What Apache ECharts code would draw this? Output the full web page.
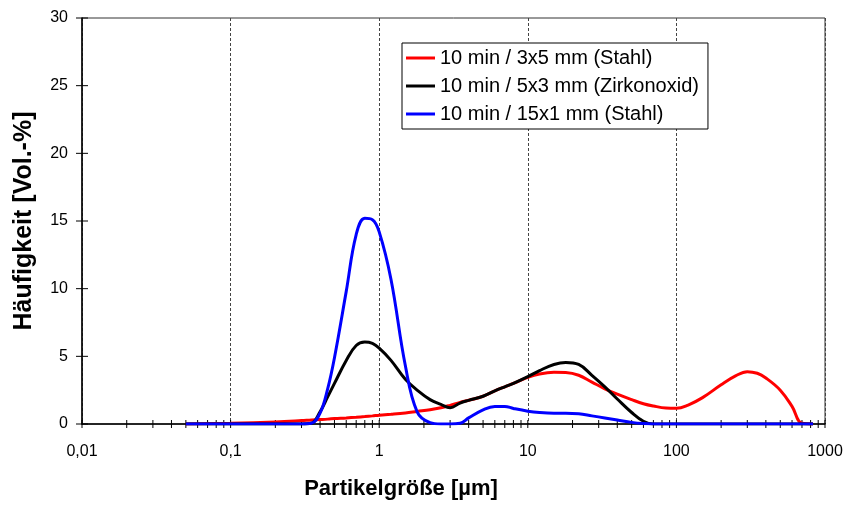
<!DOCTYPE html>
<html>
<head>
<meta charset="utf-8">
<script src="https://cdn.jsdelivr.net/npm/echarts@6/dist/echarts.min.js"></script>
<style>
    html, body {margin: 0; padding: 0; background: #fff;}
    #chart {width: 847px; height: 505px;}
</style>
</head>
<body>
<div id="chart"></div>
<script>
// Partikelgröße in µm
var sizes = [0.05, 0.1, 0.2, 0.3, 0.35, 0.4, 0.45, 0.5, 0.6, 0.7, 0.8, 0.9, 1.0, 1.2, 1.5, 1.8, 2.2, 2.6, 3, 3.5, 4, 5, 6, 7, 8,
    10, 12, 15, 18, 22, 27, 33, 40, 50, 60, 70, 85, 100, 120, 150, 200, 250, 300, 350, 400, 500, 600, 700, 830];

var stahl3x5 = [0, 0.05, 0.15, 0.25, 0.3, 0.33, 0.36, 0.4, 0.45, 0.5, 0.55, 0.6, 0.65, 0.72, 0.82, 0.93, 1.05, 1.2, 1.38, 1.6, 1.75, 2.05, 2.45, 2.75, 3.0,
    3.45, 3.7, 3.82, 3.8, 3.6, 3.1, 2.6, 2.2, 1.8, 1.5, 1.33, 1.18, 1.16, 1.4, 1.95, 2.9, 3.55, 3.87, 3.75, 3.4, 2.5, 1.3, 0.05, 0];

var zirkon5x3 = [0, 0, 0, 0, 0.05, 0.9, 2.0, 3.0, 4.7, 5.8, 6.05, 5.95, 5.6, 4.7, 3.3, 2.5, 1.8, 1.45, 1.2, 1.55, 1.75, 2.05, 2.45, 2.75, 3.0,
    3.5, 3.95, 4.4, 4.55, 4.4, 3.6, 2.75, 1.85, 0.85, 0.2, 0, 0, 0, 0, 0, 0, 0, 0, 0, 0, 0, 0, 0, 0];

var stahl15x1 = [0, 0, 0, 0, 0.05, 0.8, 2.6, 4.9, 9.8, 14.0, 15.2, 15.1, 14.2, 10.7, 4.3, 0.9, 0.1, 0, 0, 0.05, 0.45, 1.05, 1.3, 1.3, 1.15,
    0.95, 0.85, 0.8, 0.8, 0.75, 0.6, 0.45, 0.3, 0.12, 0.03, 0, 0, 0, 0, 0, 0, 0, 0, 0, 0, 0, 0, 0, 0];

var seriesNames = ['10 min / 3x5 mm (Stahl)', '10 min / 5x3 mm (Zirkonoxid)', '10 min / 15x1 mm (Stahl)'];
var seriesColors = ['#ff0000', '#000000', '#0000ff'];

// Teilstriche
var xTicks = [0.01, 0.02, 0.03, 0.04, 0.05, 0.06, 0.07, 0.08, 0.09,
    0.1, 0.2, 0.3, 0.4, 0.5, 0.6, 0.7, 0.8, 0.9,
    1, 2, 3, 4, 5, 6, 7, 8, 9,
    10, 20, 30, 40, 50, 60, 70, 80, 90,
    100, 200, 300, 400, 500, 600, 700, 800, 900, 1000];
var yTicks = [0, 5, 10, 15, 20, 25, 30];

var font = 'Liberation Sans, Arial, sans-serif';

function pairs(ys) {
    var out = [];
    for (var i = 0; i < sizes.length; i++) {
        out.push([sizes[i], ys[i]]);
    }
    return out;
}

var chart = echarts.init(document.getElementById('chart'));
var option = {
    animation: false,
    grid: {
        left: 82, right: 22, top: 18, bottom: 81,
        show: true,
        borderColor: '#333',
        borderWidth: 1
    },
    legend: {
        data: seriesNames,
        orient: 'vertical',
        left: 402,
        top: 43,
        padding: [5, 9, 5, 4],
        itemGap: 8,
        itemWidth: 29,
        itemHeight: 3,
        icon: 'rect',
        backgroundColor: '#fff',
        borderColor: '#000',
        borderWidth: 1,
        borderRadius: 0,
        textStyle: {fontSize: 20, color: '#000', fontFamily: font}
    },
    xAxis: {
        type: 'log',
        logBase: 10,
        min: 0.01,
        max: 1000,
        axisLine: {lineStyle: {color: '#000', width: 1.5}},
        axisTick: {show: false},
        axisLabel: {
            color: '#000', fontSize: 16, fontFamily: font, margin: 20,
            formatter: function (v) {
                return String(v).replace('.', ',');
            }
        },
        splitLine: {show: true, lineStyle: {color: '#444', type: [3, 2], width: 1}}
    },
    yAxis: {
        type: 'value',
        min: 0,
        max: 30,
        interval: 5,
        axisLine: {show: true, lineStyle: {color: '#000', width: 1.5}},
        axisTick: {show: false},
        axisLabel: {color: '#000', fontSize: 16, fontFamily: font, margin: 14},
        splitLine: {show: false}
    },
    graphic: [
        {
            type: 'text',
            x: 401, y: 489,
            style: {
                text: 'Partikelgröße [µm]',
                font: 'bold 22px ' + font,
                fill: '#000',
                textAlign: 'center',
                textVerticalAlign: 'middle'
            }
        },
        {
            type: 'text',
            x: 24, y: 221,
            rotation: Math.PI / 2,
            style: {
                text: 'Häufigkeit [Vol.-%]',
                font: 'bold 25px ' + font,
                fill: '#000',
                textAlign: 'center',
                textVerticalAlign: 'middle'
            }
        }
    ],
    series: [
        {
            name: 'xticks',
            type: 'custom',
            silent: true,
            z: 5,
            data: xTicks.map(function (v) { return [v, 0]; }),
            renderItem: function (params, api) {
                var p = api.coord([api.value(0), 0]);
                return {
                    type: 'line',
                    shape: {x1: p[0], y1: p[1] - 4, x2: p[0], y2: p[1] + 4},
                    style: {stroke: '#000', lineWidth: 1}
                };
            }
        },
        {
            name: 'yticks',
            type: 'custom',
            silent: true,
            z: 5,
            data: yTicks.map(function (v) { return [0.01, v]; }),
            renderItem: function (params, api) {
                var p = api.coord([0.01, api.value(1)]);
                return {
                    type: 'line',
                    shape: {x1: p[0] - 6, y1: p[1], x2: p[0] + 6, y2: p[1]},
                    style: {stroke: '#000', lineWidth: 1}
                };
            }
        },
        {
            name: seriesNames[0],
            type: 'line',
            data: pairs(stahl3x5),
            smooth: 0.4,
            symbol: 'none',
            color: seriesColors[0],
            lineStyle: {width: 3},
            z: 10
        },
        {
            name: seriesNames[1],
            type: 'line',
            data: pairs(zirkon5x3),
            smooth: 0.4,
            symbol: 'none',
            color: seriesColors[1],
            lineStyle: {width: 3},
            z: 11
        },
        {
            name: seriesNames[2],
            type: 'line',
            data: pairs(stahl15x1),
            smooth: 0.4,
            symbol: 'none',
            color: seriesColors[2],
            lineStyle: {width: 3},
            z: 12
        }
    ]
};
chart.setOption(option);   //为echarts对象加载数据
</script>
</body>
</html>
